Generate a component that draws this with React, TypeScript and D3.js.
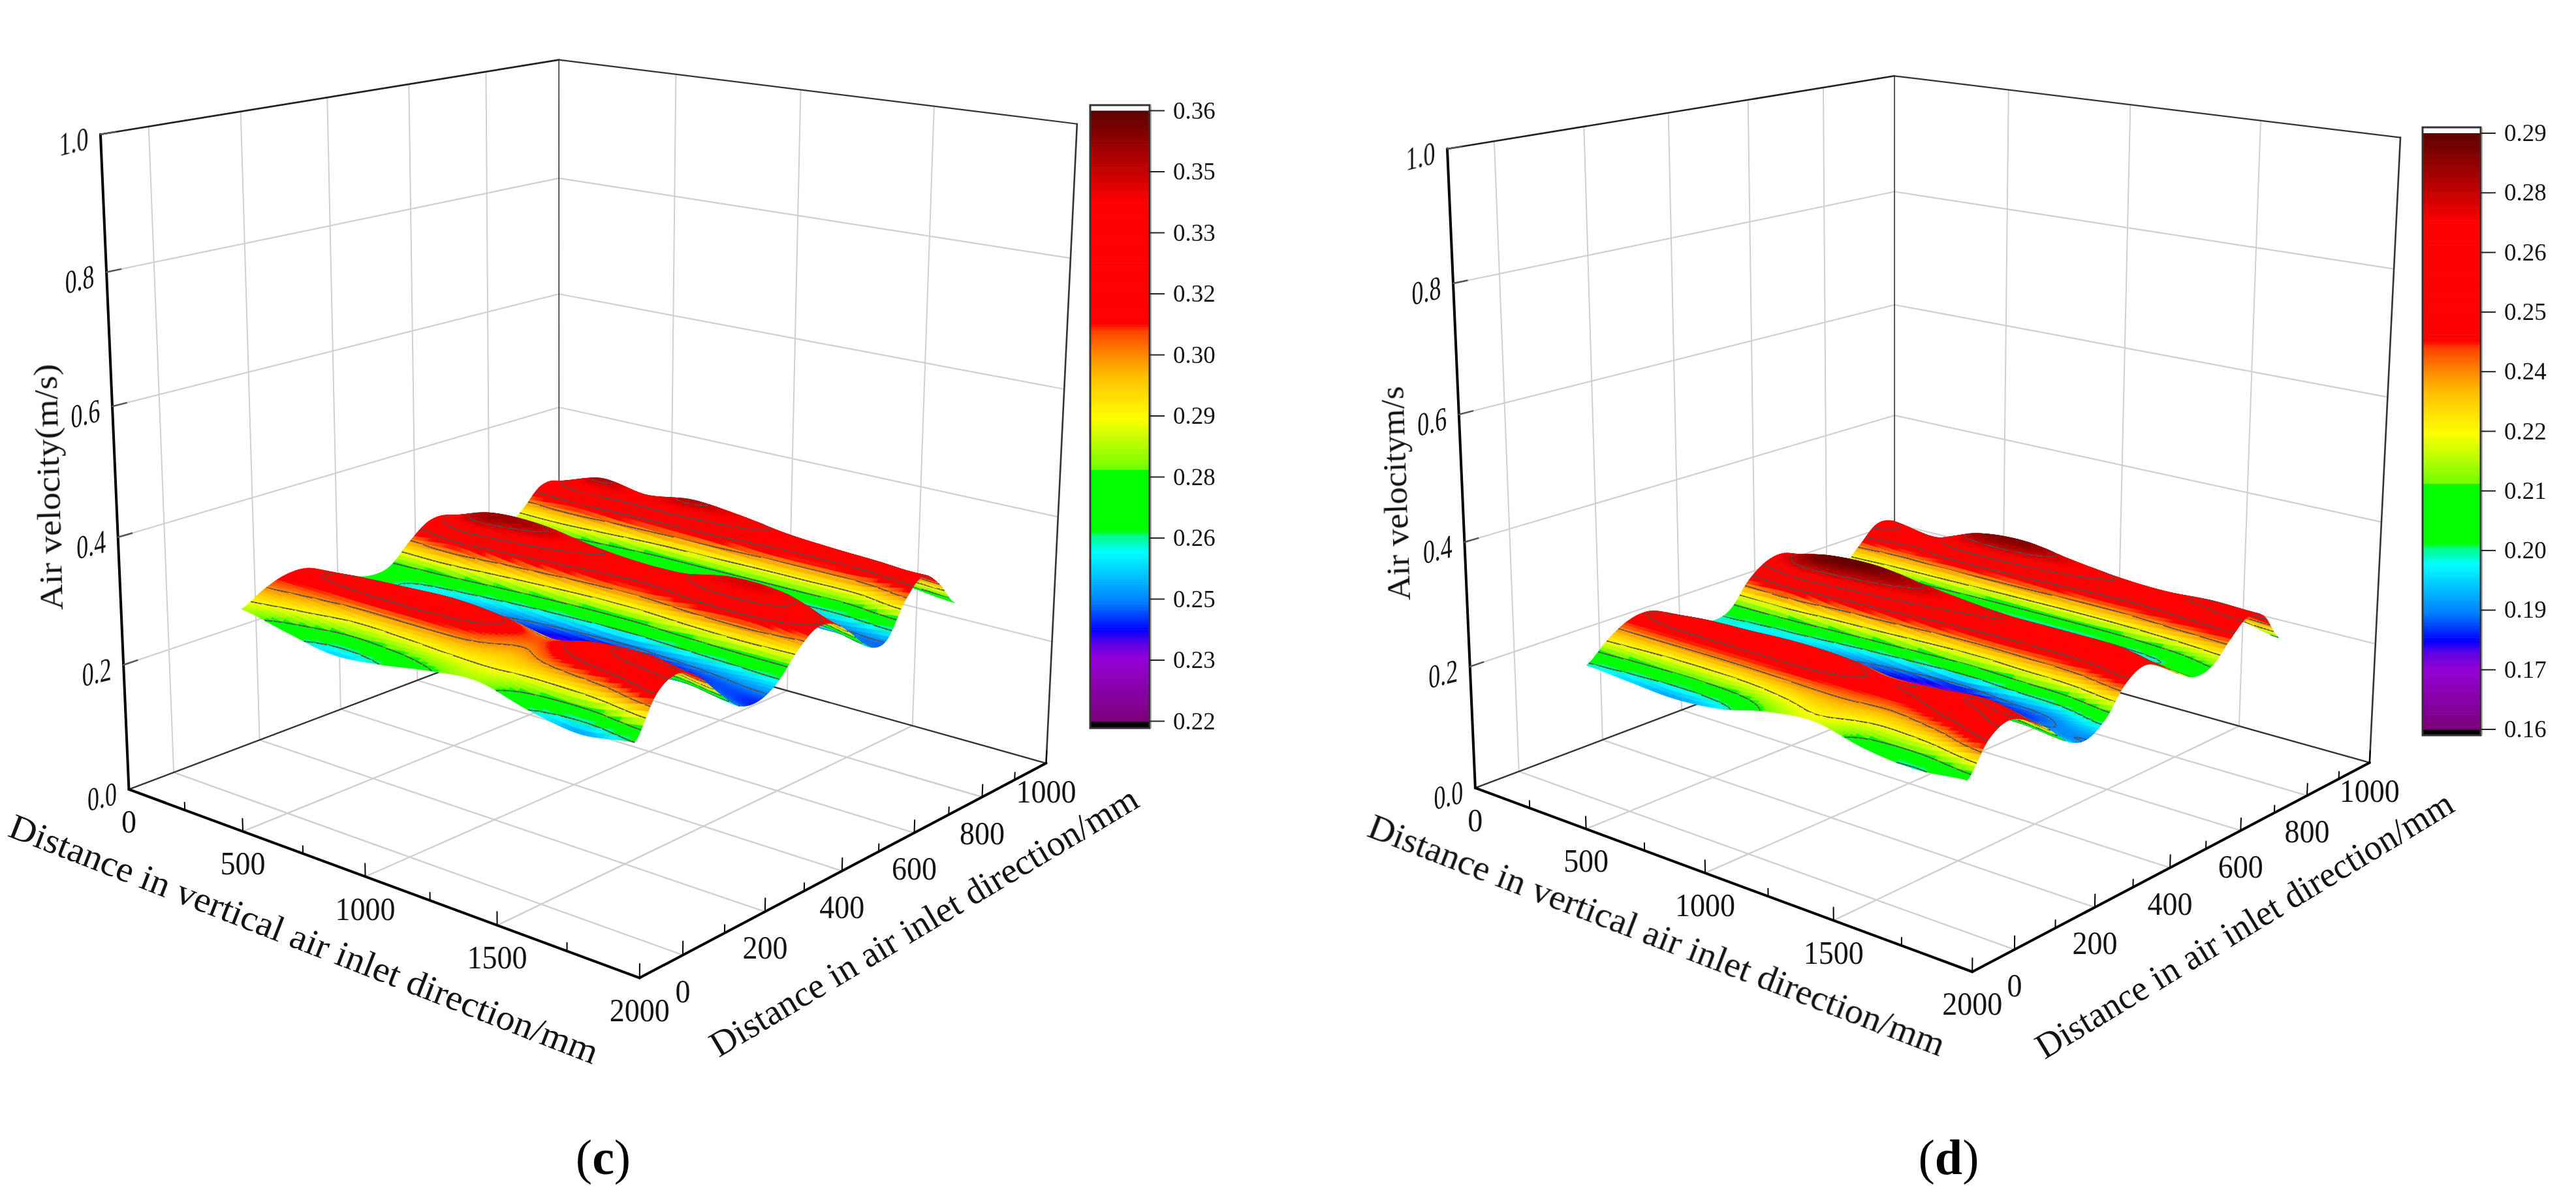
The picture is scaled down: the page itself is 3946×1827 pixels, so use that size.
import { useEffect, useRef } from "react";
import * as d3 from "d3";

const xSamples = [250, 440, 630, 820, 1010, 1200, 1390, 1580, 1770];
const ySamples = [40, 90, 140, 190, 240, 290, 340, 390, 440, 490, 540, 590, 640, 690, 740, 790, 840, 890];

// air velocity, one row per x sample
const velocityC = [
  [0.283, 0.302, 0.314, 0.314, 0.298, 0.28, 0.268, 0.272, 0.302, 0.326, 0.326, 0.305, 0.285, 0.272, 0.295, 0.325, 0.322, 0.285],
  [0.268, 0.295, 0.315, 0.32, 0.303, 0.275, 0.258, 0.265, 0.308, 0.345, 0.348, 0.32, 0.288, 0.268, 0.298, 0.335, 0.345, 0.295],
  [0.255, 0.285, 0.316, 0.325, 0.305, 0.27, 0.252, 0.258, 0.298, 0.34, 0.348, 0.322, 0.28, 0.256, 0.292, 0.332, 0.335, 0.292],
  [0.262, 0.288, 0.316, 0.328, 0.308, 0.268, 0.245, 0.25, 0.29, 0.328, 0.336, 0.31, 0.27, 0.248, 0.285, 0.335, 0.345, 0.298],
  [0.275, 0.292, 0.312, 0.322, 0.302, 0.262, 0.238, 0.244, 0.285, 0.32, 0.328, 0.304, 0.266, 0.246, 0.284, 0.33, 0.338, 0.292],
  [0.282, 0.292, 0.302, 0.308, 0.29, 0.254, 0.232, 0.24, 0.285, 0.32, 0.328, 0.304, 0.266, 0.246, 0.282, 0.322, 0.326, 0.286],
  [0.262, 0.292, 0.318, 0.324, 0.3, 0.262, 0.24, 0.246, 0.292, 0.332, 0.342, 0.316, 0.274, 0.246, 0.282, 0.32, 0.32, 0.28],
  [0.25, 0.298, 0.332, 0.33, 0.298, 0.262, 0.245, 0.252, 0.296, 0.332, 0.338, 0.31, 0.27, 0.246, 0.282, 0.322, 0.315, 0.272],
  [0.262, 0.318, 0.335, 0.318, 0.282, 0.25, 0.243, 0.258, 0.292, 0.316, 0.312, 0.284, 0.252, 0.25, 0.3, 0.328, 0.305, 0.263],
];

// same for panel (d)
const velocityD = [
  [0.197, 0.226, 0.246, 0.25, 0.235, 0.216, 0.198, 0.205, 0.245, 0.268, 0.27, 0.248, 0.225, 0.212, 0.24, 0.268, 0.262, 0.23],
  [0.192, 0.222, 0.248, 0.256, 0.242, 0.212, 0.196, 0.202, 0.25, 0.282, 0.285, 0.258, 0.228, 0.208, 0.236, 0.256, 0.252, 0.226],
  [0.188, 0.22, 0.248, 0.258, 0.245, 0.212, 0.194, 0.198, 0.24, 0.278, 0.288, 0.26, 0.222, 0.198, 0.238, 0.272, 0.278, 0.238],
  [0.195, 0.222, 0.248, 0.262, 0.248, 0.212, 0.188, 0.19, 0.235, 0.27, 0.278, 0.25, 0.212, 0.192, 0.236, 0.274, 0.284, 0.244],
  [0.214, 0.228, 0.248, 0.258, 0.246, 0.208, 0.18, 0.182, 0.228, 0.262, 0.268, 0.244, 0.21, 0.19, 0.234, 0.268, 0.272, 0.236],
  [0.222, 0.232, 0.245, 0.25, 0.236, 0.2, 0.17, 0.174, 0.224, 0.258, 0.262, 0.24, 0.208, 0.19, 0.232, 0.26, 0.262, 0.23],
  [0.205, 0.226, 0.245, 0.254, 0.24, 0.204, 0.18, 0.184, 0.228, 0.256, 0.26, 0.242, 0.21, 0.192, 0.234, 0.258, 0.258, 0.226],
  [0.198, 0.232, 0.258, 0.264, 0.244, 0.204, 0.186, 0.19, 0.232, 0.258, 0.26, 0.24, 0.21, 0.2, 0.24, 0.262, 0.262, 0.226],
  [0.206, 0.252, 0.268, 0.254, 0.228, 0.196, 0.186, 0.205, 0.245, 0.262, 0.25, 0.225, 0.208, 0.214, 0.244, 0.268, 0.258, 0.21],
];

const legendLabelsC = ["0.22", "0.23", "0.25", "0.26", "0.28", "0.29", "0.30", "0.32", "0.33", "0.35", "0.36"];
const legendLabelsD = ["0.16", "0.17", "0.19", "0.20", "0.21", "0.22", "0.24", "0.25", "0.26", "0.28", "0.29"];

const xMajor = [0, 500, 1000, 1500, 2000];
const xMinor = [250, 750, 1250, 1750];
const yMajor = [0, 200, 400, 600, 800, 1000];
const yMinor = [100, 300, 500, 700, 900];
const zMajor = [0, 0.2, 0.4, 0.6, 0.8, 1];

const colorPos = [0, 0.1, 0.128, 0.149, 0.196, 0.278, 0.305, 0.312, 0.411, 0.413, 0.497, 0.565, 0.606, 0.64, 0.652, 0.85, 0.906, 1];
const colorVal = ["#7a0078", "#9400d3", "#6000e6", "#0000ff", "#0080ff", "#00ffff", "#00ff80", "#00ff00", "#00ff00", "#70ff00", "#ffff00", "#ffc000", "#ff8000", "#ff4000", "#ff0000", "#ff0000", "#c00000", "#5c0000"];

const FONT = "'Liberation Serif', 'Times New Roman', serif";

type Pt = [number, number];

interface PanelCfg {
  grid: number[][];
  labels: string[];
  range: [number, number];
  // frame corners on the page, used to calibrate the projection
  lb: Pt; front: Pt; right: Pt; back: Pt; lt: Pt; bt: Pt; rt: Pt;
  bar: { x0: number; x1: number; y0: number; y1: number; top: number; bottom: number };
  zTitle: string; zLine: [Pt, Pt];
  xLine: [Pt, Pt]; yLine: [Pt, Pt];
  tag: string; tagX: number;
}

const panels: PanelCfg[] = [
  {
    grid: velocityC, labels: legendLabelsC, range: [0.22, 0.36],
    lb: [198, 1210], front: [979, 1497], right: [1603, 1169], back: [856, 959],
    lt: [154, 205], bt: [856, 92], rt: [1650, 190],
    bar: { x0: 1670, x1: 1761, y0: 161, y1: 1115, top: 169.5, bottom: 1104.5 },
    zTitle: "Air velocity(m/s)", zLine: [[96, 934], [86, 557]],
    xLine: [[10, 1280], [908, 1630]], yLine: [[1101, 1620], [1748, 1234]],
    tag: "c", tagX: 924,
  },
  {
    grid: velocityD, labels: legendLabelsD, range: [0.16, 0.29],
    lb: [2260, 1206], front: [3021, 1489], right: [3630, 1167], back: [2902, 965],
    lt: [2217, 228], bt: [2902, 116], rt: [3677, 211],
    bar: { x0: 3711, x1: 3800, y0: 195, y1: 1126, top: 204, bottom: 1117 },
    zTitle: "Air velocitym/s", zLine: [[2160, 919], [2149, 591]],
    xLine: [[2092, 1280], [2971, 1618]], yLine: [[3132, 1623], [3763, 1241]],
    tag: "d", tagX: 2985,
  },
];

const xScale = d3.scaleLinear().domain([0, 2000]).range([0, 1]);
const yScale = d3.scaleLinear().domain([-100, 1000]).range([0, 1]);
const zScale = d3.scaleLinear().domain([0, 1]).range([0, 1]);

function solve(A: number[][], b: number[]) {
  const n = b.length;
  const M = A.map((r, i) => [...r, b[i]]);
  for (let c = 0; c < n; c++) {
    let p = c;
    for (let r = c + 1; r < n; r++) if (Math.abs(M[r][c]) > Math.abs(M[p][c])) p = r;
    [M[c], M[p]] = [M[p], M[c]];
    for (let r = 0; r < n; r++) {
      if (r === c) continue;
      const f = M[r][c] / M[c][c];
      for (let k = c; k <= n; k++) M[r][k] -= f * M[c][k];
    }
  }
  return M.map((r, i) => r[n] / r[i]);
}

// least squares for the 3x4 camera matrix, from the frame corners
function fitProjection(cfg: PanelCfg) {
  const anchors: [number, number, number, Pt][] = [
    [0, 0, 0, cfg.lb], [1, 0, 0, cfg.front], [1, 1, 0, cfg.right], [0, 1, 0, cfg.back],
    [0, 0, 1, cfg.lt], [0, 1, 1, cfg.bt], [1, 1, 1, cfg.rt],
  ];
  const ox = cfg.lb[0];
  const rows: number[][] = [];
  const rhs: number[] = [];
  anchors.forEach(([u, v, w, [px, py]]) => {
    const x = (px - ox) / 1000;
    const y = py / 1000;
    rows.push([u, v, w, 1, 0, 0, 0, 0, -x * u, -x * v, -x * w]);
    rhs.push(x);
    rows.push([0, 0, 0, 0, u, v, w, 1, -y * u, -y * v, -y * w]);
    rhs.push(y);
  });
  const AtA = d3.range(11).map((i) => d3.range(11).map((j) => d3.sum(rows, (r) => r[i] * r[j])));
  const Atb = d3.range(11).map((i) => d3.sum(rows, (r, k) => r[i] * rhs[k]));
  const m = solve(AtA, Atb);
  return (x: number, y: number, z: number): Pt => {
    const u = xScale(x), v = yScale(y), w = zScale(z);
    const d = m[8] * u + m[9] * v + m[10] * w + 1;
    return [
      ox + (1000 * (m[0] * u + m[1] * v + m[2] * w + m[3])) / d,
      (1000 * (m[4] * u + m[5] * v + m[6] * w + m[7])) / d,
    ];
  };
}

function catmull(a: number, b: number, c: number, d: number, t: number) {
  return 0.5 * (2 * b + (c - a) * t + (2 * a - 5 * b + 4 * c - d) * t * t + (3 * b - a - 3 * c + d) * t * t * t);
}

function sampleGrid(grid: number[][], fi: number, fj: number) {
  const nr = grid.length, nc = grid[0].length;
  const i = Math.min(Math.floor(fi), nr - 2), j = Math.min(Math.floor(fj), nc - 2);
  const cl = (v: number, n: number) => Math.max(0, Math.min(n - 1, v));
  const col = [-1, 0, 1, 2].map((di) => {
    const row = grid[cl(i + di, nr)];
    return catmull(row[cl(j - 1, nc)], row[j], row[cl(j + 1, nc)], row[cl(j + 2, nc)], fj - j);
  });
  return catmull(col[0], col[1], col[2], col[3], fi - i);
}

function drawPanel(g: d3.Selection<SVGGElement, unknown, null, undefined>, cfg: PanelCfg) {
  const project = fitProjection(cfg);
  const pathLine = d3.line();
  const seg = (a: Pt, b: Pt, stroke: string, width: number) =>
    g.append("path").attr("d", pathLine([a, b])).attr("stroke", stroke).attr("stroke-width", width).attr("fill", "none").attr("stroke-linecap", "round");

  // walls and floor grid
  const gridC = "#cfcfcf";
  yMajor.slice(0, -1).forEach((y) => {
    seg(project(0, y, 0), project(0, y, 1), gridC, 2);
    seg(project(0, y, 0), project(2000, y, 0), gridC, 2.4);
  });
  xMajor.slice(1, -1).forEach((x) => {
    seg(project(x, 1000, 0), project(x, 1000, 1), gridC, 2);
    seg(project(x, -100, 0), project(x, 1000, 0), gridC, 2.4);
  });
  zMajor.slice(1, -1).forEach((z) => {
    seg(project(0, -100, z), project(0, 1000, z), gridC, 2.2);
    seg(project(0, 1000, z), project(2000, 1000, z), gridC, 2.2);
  });

  // back frame
  seg(project(0, -100, 0), project(0, 1000, 0), "#333", 2.4);
  seg(project(0, 1000, 0), project(2000, 1000, 0), "#333", 2.4);
  seg(project(0, 1000, 0), project(0, 1000, 1), "#333", 1.6);
  seg(project(0, -100, 1), project(0, 1000, 1), "#222", 2.6);
  seg(project(0, 1000, 1), project(2000, 1000, 1), "#333", 2.2);
  seg(project(2000, 1000, 0), project(2000, 1000, 1), "#333", 2.6);

  // surface, painted far to near
  const grid = cfg.grid;
  const perX = 14, perY = 8;
  const nx = (grid.length - 1) * perX, ny = (grid[0].length - 1) * perY;
  const xAt = d3.scaleLinear().domain([0, nx]).range([xSamples[0], xSamples[xSamples.length - 1]]);
  const yAt = d3.scaleLinear().domain([0, ny]).range([ySamples[0], ySamples[ySamples.length - 1]]);
  const zFine = d3.range(nx + 1).map((i) => d3.range(ny + 1).map((j) => sampleGrid(grid, i / perX, j / perY)));
  const pts = zFine.map((row, i) => row.map((z, j) => project(xAt(i), yAt(j), z)));
  const tScale = d3.scaleLinear().domain(cfg.range).range([0, 1]);
  const colorScale = d3.scaleLinear<string>().domain(colorPos).range(colorVal).clamp(true);
  const levels = d3.range(cfg.labels.length).map((k) => cfg.range[0] + ((cfg.range[1] - cfg.range[0]) * k) / (cfg.labels.length - 1));

  const quads: { d: string; fill: string; contour: string }[] = [];
  for (let j = ny - 1; j >= 0; j--) {
    for (let i = 0; i < nx; i++) {
      const corners = [pts[i][j], pts[i + 1][j], pts[i + 1][j + 1], pts[i][j + 1]];
      const vals = [zFine[i][j], zFine[i + 1][j], zFine[i + 1][j + 1], zFine[i][j + 1]];
      let contour = "";
      levels.forEach((lv) => {
        const hits: Pt[] = [];
        for (let e = 0; e < 4; e++) {
          const a = vals[e], b = vals[(e + 1) % 4];
          if ((a < lv) !== (b < lv)) {
            const t = (lv - a) / (b - a);
            const p = corners[e], q = corners[(e + 1) % 4];
            hits.push([p[0] + (q[0] - p[0]) * t, p[1] + (q[1] - p[1]) * t]);
          }
        }
        for (let h = 0; h + 1 < hits.length; h += 2) contour += pathLine([hits[h], hits[h + 1]]);
      });
      quads.push({
        d: pathLine(corners)! + "Z",
        fill: colorScale(tScale(d3.mean(vals)!)),
        contour,
      });
    }
  }
  const surf = g.append("g");
  quads.forEach((q) => {
    surf.append("path").attr("d", q.d).attr("fill", q.fill).attr("stroke", q.fill).attr("stroke-width", 0.8);
    if (q.contour) surf.append("path").attr("d", q.contour).attr("fill", "none").attr("stroke", "#505050").attr("stroke-width", 1.9);
  });

  // front axes
  seg(project(0, -100, 0), project(0, -100, 1), "#000", 4);
  seg(project(0, -100, 0), project(2000, -100, 0), "#000", 4);
  seg(project(2000, -100, 0), project(2000, 1000, 0), "#000", 4);

  xMajor.forEach((x) => seg(project(x, -100, 0), project(x, -100, 0.02), "#000", 2));
  xMinor.forEach((x) => seg(project(x, -100, 0), project(x, -100, 0.012), "#000", 2));
  yMajor.forEach((y) => seg(project(2000, y, 0), project(2000, y, 0.02), "#000", 2));
  yMinor.forEach((y) => seg(project(2000, y, 0), project(2000, y, 0.012), "#000", 2));
  zMajor.slice(1).forEach((z) => seg(project(0, -100, z), project(0, -70, z), "#555", 2.5));

  // low opacity trick keeps the text grayscale antialiased, like the reference
  const texts = g.append("g").attr("opacity", 0.99);

  const label = (s: string, p: Pt, dx: number, dy: number, extra = "") =>
    texts.append("text").attr("transform", `translate(${p[0] + dx},${p[1] + dy}) ${extra}`)
      .attr("text-anchor", "middle").attr("font-family", FONT).attr("font-size", 46).attr("fill", "#111").text(s);

  xMajor.forEach((x) => label(String(x), project(x, -100, 0), 0, 66, "scale(1,1.08)"));
  yMajor.forEach((y) => label(String(y), project(2000, y, 0), 0, y === 1000 ? 60 : 72, "scale(1,1.08)"));
  zMajor.forEach((z) => label(d3.format(".1f")(z), project(0, -100, z), -41, 28, "skewY(-14) scale(0.78,1.1)"));

  // axis titles follow the baselines measured on the page
  const title = (s: string, [a, b]: [Pt, Pt], size: number) => {
    const angle = (Math.atan2(b[1] - a[1], b[0] - a[0]) * 180) / Math.PI;
    texts.append("text").attr("transform", `translate(${a[0]},${a[1]}) rotate(${angle})`)
      .attr("font-family", FONT).attr("font-size", size).attr("fill", "#111")
      .attr("textLength", Math.hypot(b[0] - a[0], b[1] - a[1])).attr("lengthAdjust", "spacingAndGlyphs").text(s);
  };
  title("Distance in vertical air inlet direction/mm", cfg.xLine, 55);
  title("Distance in air inlet direction/mm", cfg.yLine, 55);
  title(cfg.zTitle, cfg.zLine, 50);

  // colour legend
  const { x0, x1, y0, y1, top, bottom } = cfg.bar;
  const barY = d3.scaleLinear().domain(cfg.range).range([bottom, top]);
  g.append("rect").attr("x", x0).attr("y", y0).attr("width", x1 - x0).attr("height", y1 - y0).attr("fill", "#fff");
  g.append("rect").attr("x", x0).attr("y", bottom).attr("width", x1 - x0).attr("height", y1 - bottom).attr("fill", "#000");
  d3.range(240).forEach((k) => {
    const t0 = k / 240, t1 = (k + 1) / 240;
    const yTop = barY(cfg.range[0] + (cfg.range[1] - cfg.range[0]) * t1);
    const yBot = barY(cfg.range[0] + (cfg.range[1] - cfg.range[0]) * t0);
    g.append("rect").attr("x", x0).attr("y", yTop).attr("width", x1 - x0).attr("height", yBot - yTop + 0.6).attr("fill", colorScale((t0 + t1) / 2));
  });
  g.append("rect").attr("x", x0).attr("y", y0).attr("width", x1 - x0).attr("height", y1 - y0)
    .attr("fill", "none").attr("stroke", "#333").attr("stroke-width", 3);
  g.append("line").attr("x1", x1 + 2).attr("x2", x1 + 2).attr("y1", y0).attr("y2", y1).attr("stroke", "#aaa").attr("stroke-width", 2);
  cfg.labels.forEach((s, k) => {
    const y = barY(levels[k]);
    g.append("line").attr("x1", x1).attr("x2", x1 + 23).attr("y1", y).attr("y2", y).attr("stroke", "#222").attr("stroke-width", 2);
    texts.append("text").attr("x", x1 + 36).attr("y", y + 12).attr("font-family", FONT).attr("font-size", 37).attr("fill", "#111").text(s);
  });

  // panel tag
  const tag = texts.append("text").attr("x", cfg.tagX).attr("y", 1798).attr("text-anchor", "middle").attr("font-family", FONT).attr("font-size", 76).attr("fill", "#000");
  tag.append("tspan").text("(");
  tag.append("tspan").attr("font-weight", "bold").text(cfg.tag);
  tag.append("tspan").text(")");
}

export default function App() {
  const svgRef = useRef<SVGSVGElement>(null);

  useEffect(() => {
    const svg = d3.select(svgRef.current);
    svg.selectAll("*").remove();
    panels.forEach((cfg) => drawPanel(svg.append("g") as any, cfg));
  }, []);

  return (
    <svg
      ref={svgRef}
      width={3946}
      height={1827}
      style={{ position: "absolute", left: 0, top: 0, display: "block", background: "#fff" }}
    />
  );
}
